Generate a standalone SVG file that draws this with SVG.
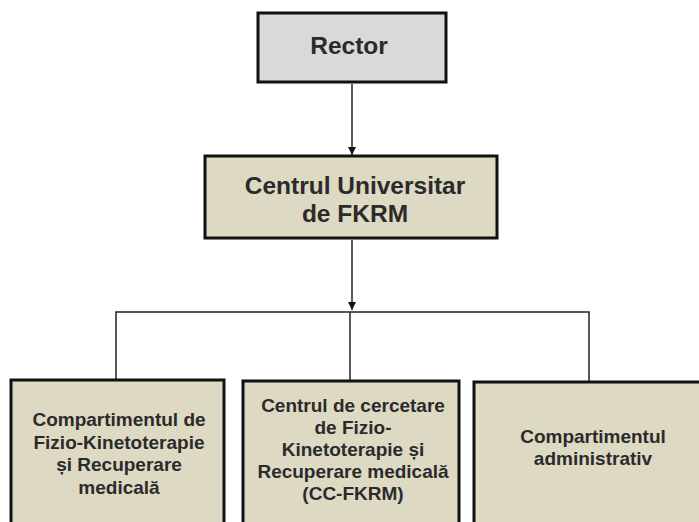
<svg xmlns="http://www.w3.org/2000/svg" width="699" height="522" viewBox="0 0 699 522">
<style>
.box{stroke:#111;stroke-width:3}
.top{fill:#d9d9d9}
.tan{fill:#ddd9c3}
.t{font-family:"Liberation Sans",Arial,sans-serif;font-weight:bold;fill:#2b2b2b;text-anchor:middle}
.big{font-size:24.5px}
.sm{font-size:19px}
.c{stroke:#222;stroke-width:1.5;fill:none}
</style>
<defs>
<marker id="ah" viewBox="0 0 10 10" refX="10" refY="5" markerWidth="8" markerHeight="8" markerUnits="userSpaceOnUse" orient="auto">
<path d="M0,0 L10,5 L0,10 z" fill="#111"/>
</marker>
</defs>
<rect width="699" height="522" fill="#fff"/>
<g id="connectors">
<line class="c" x1="352" y1="84" x2="352" y2="155" marker-end="url(#ah)"/>
<line class="c" x1="352" y1="240" x2="352" y2="310" marker-end="url(#ah)"/>
<polyline class="c" points="116,380 116,312 589,312 589,382"/>
<line class="c" x1="350" y1="312" x2="350" y2="381"/>
</g>
<g id="rector">
<rect class="box top" x="258" y="13" width="188" height="69"/>
<text class="t big" x="349" y="54">Rector</text>
</g>
<g id="centrul">
<rect class="box tan" x="205" y="156" width="292" height="82"/>
<text class="t big" x="355" y="194">Centrul Universitar</text>
<text class="t big" x="355" y="222">de FKRM</text>
</g>
<g id="compartiment-fkt">
<rect class="box tan" x="11" y="380" width="213" height="150"/>
<text class="t sm" x="119" y="426">Compartimentul de</text>
<text class="t sm" x="119" y="448.5">Fizio-Kinetoterapie</text>
<text class="t sm" x="119" y="471">și Recuperare</text>
<text class="t sm" x="119" y="493.5">medicală</text>
</g>
<g id="centru-cercetare">
<rect class="box tan" x="243" y="381" width="216" height="150"/>
<text class="t sm" x="353" y="412">Centrul de cercetare</text>
<text class="t sm" x="353" y="434">de Fizio-</text>
<text class="t sm" x="353" y="456">Kinetoterapie și</text>
<text class="t sm" x="353" y="478">Recuperare medicală</text>
<text class="t sm" x="353" y="500">(CC-FKRM)</text>
</g>
<g id="compartiment-admin">
<rect class="box tan" x="474" y="382" width="240" height="150"/>
<text class="t sm" x="593" y="443">Compartimentul</text>
<text class="t sm" x="593" y="465">administrativ</text>
</g>
</svg>
